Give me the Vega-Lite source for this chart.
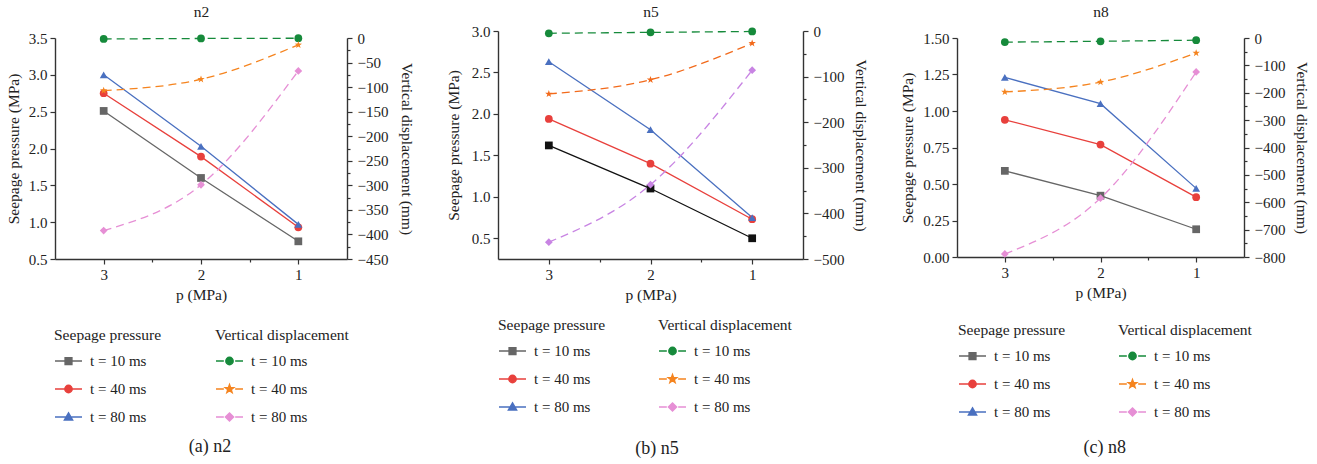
{
  "$schema": "https://vega.github.io/schema/vega-lite/v6.json",
  "padding": {"left": 6, "top": 4, "right": 0, "bottom": 0},
  "config": {
    "font": "Liberation Serif",
    "view": {"stroke": null},
    "title": {"font": "Liberation Serif", "fontSize": 15.5, "fontWeight": "normal", "color": "#222", "anchor": "middle"},
    "axis": {
      "labelFont": "Liberation Serif", "labelFontSize": 15, "labelColor": "#222",
      "titleFont": "Liberation Serif", "titleFontSize": 15.5, "titleFontWeight": "normal", "titleColor": "#222",
      "domainColor": "#333", "domainWidth": 1.4, "tickColor": "#333", "tickWidth": 1.2,
      "grid": false, "labelOverlap": false, "labelBound": false, "labelFlush": false
    },
    "legend": {
      "labelFont": "Liberation Serif", "labelFontSize": 15, "labelColor": "#222",
      "titleFont": "Liberation Serif", "titleFontSize": 15.5, "titleFontWeight": "normal", "titleColor": "#222",
      "titlePadding": 3, "rowPadding": 5, "symbolSize": 729, "labelOffset": 7, "padding": 0
    }
  },
  "data": {"values": [
    {"panel":"n2","kind":"seep","t":"t = 10 ms","p":3,"v":2.51},
    {"panel":"n2","kind":"seep","t":"t = 10 ms","p":2,"v":1.60},
    {"panel":"n2","kind":"seep","t":"t = 10 ms","p":1,"v":0.74},
    {"panel":"n2","kind":"seep","t":"t = 40 ms","p":3,"v":2.75},
    {"panel":"n2","kind":"seep","t":"t = 40 ms","p":2,"v":1.89},
    {"panel":"n2","kind":"seep","t":"t = 40 ms","p":1,"v":0.93},
    {"panel":"n2","kind":"seep","t":"t = 80 ms","p":3,"v":3.00},
    {"panel":"n2","kind":"seep","t":"t = 80 ms","p":2,"v":2.03},
    {"panel":"n2","kind":"seep","t":"t = 80 ms","p":1,"v":0.97},
    {"panel":"n2","kind":"disp","t":"t = 10 ms","p":3,"v":-2},
    {"panel":"n2","kind":"disp","t":"t = 10 ms","p":2,"v":-1},
    {"panel":"n2","kind":"disp","t":"t = 10 ms","p":1,"v":-0.5},
    {"panel":"n2","kind":"disp","t":"t = 40 ms","p":3,"v":-107},
    {"panel":"n2","kind":"disp","t":"t = 40 ms","p":2,"v":-84},
    {"panel":"n2","kind":"disp","t":"t = 40 ms","p":1,"v":-14},
    {"panel":"n2","kind":"disp","t":"t = 80 ms","p":3,"v":-392},
    {"panel":"n2","kind":"disp","t":"t = 80 ms","p":2,"v":-299},
    {"panel":"n2","kind":"disp","t":"t = 80 ms","p":1,"v":-67},
    {"panel":"n5","kind":"seep","t":"t = 10 ms","p":3,"v":1.62},
    {"panel":"n5","kind":"seep","t":"t = 10 ms","p":2,"v":1.10},
    {"panel":"n5","kind":"seep","t":"t = 10 ms","p":1,"v":0.50},
    {"panel":"n5","kind":"seep","t":"t = 40 ms","p":3,"v":1.94},
    {"panel":"n5","kind":"seep","t":"t = 40 ms","p":2,"v":1.40},
    {"panel":"n5","kind":"seep","t":"t = 40 ms","p":1,"v":0.73},
    {"panel":"n5","kind":"seep","t":"t = 80 ms","p":3,"v":2.63},
    {"panel":"n5","kind":"seep","t":"t = 80 ms","p":2,"v":1.81},
    {"panel":"n5","kind":"seep","t":"t = 80 ms","p":1,"v":0.75},
    {"panel":"n5","kind":"disp","t":"t = 10 ms","p":3,"v":-5},
    {"panel":"n5","kind":"disp","t":"t = 10 ms","p":2,"v":-3},
    {"panel":"n5","kind":"disp","t":"t = 10 ms","p":1,"v":-1},
    {"panel":"n5","kind":"disp","t":"t = 40 ms","p":3,"v":-138},
    {"panel":"n5","kind":"disp","t":"t = 40 ms","p":2,"v":-107},
    {"panel":"n5","kind":"disp","t":"t = 40 ms","p":1,"v":-27},
    {"panel":"n5","kind":"disp","t":"t = 80 ms","p":3,"v":-463},
    {"panel":"n5","kind":"disp","t":"t = 80 ms","p":2,"v":-337},
    {"panel":"n5","kind":"disp","t":"t = 80 ms","p":1,"v":-86},
    {"panel":"n8","kind":"seep","t":"t = 10 ms","p":3,"v":0.59},
    {"panel":"n8","kind":"seep","t":"t = 10 ms","p":2,"v":0.42},
    {"panel":"n8","kind":"seep","t":"t = 10 ms","p":1,"v":0.19},
    {"panel":"n8","kind":"seep","t":"t = 40 ms","p":3,"v":0.94},
    {"panel":"n8","kind":"seep","t":"t = 40 ms","p":2,"v":0.77},
    {"panel":"n8","kind":"seep","t":"t = 40 ms","p":1,"v":0.41},
    {"panel":"n8","kind":"seep","t":"t = 80 ms","p":3,"v":1.23},
    {"panel":"n8","kind":"seep","t":"t = 80 ms","p":2,"v":1.05},
    {"panel":"n8","kind":"seep","t":"t = 80 ms","p":1,"v":0.47},
    {"panel":"n8","kind":"disp","t":"t = 10 ms","p":3,"v":-15},
    {"panel":"n8","kind":"disp","t":"t = 10 ms","p":2,"v":-12},
    {"panel":"n8","kind":"disp","t":"t = 10 ms","p":1,"v":-8},
    {"panel":"n8","kind":"disp","t":"t = 40 ms","p":3,"v":-197},
    {"panel":"n8","kind":"disp","t":"t = 40 ms","p":2,"v":-161},
    {"panel":"n8","kind":"disp","t":"t = 40 ms","p":1,"v":-55},
    {"panel":"n8","kind":"disp","t":"t = 80 ms","p":3,"v":-789},
    {"panel":"n8","kind":"disp","t":"t = 80 ms","p":2,"v":-585},
    {"panel":"n8","kind":"disp","t":"t = 80 ms","p":1,"v":-124}
  ]},
  "spacing": 32,
  "hconcat": [
    {
      "title": {"text": "(a) n2", "orient": "bottom", "anchor": "middle", "fontSize": 18, "offset": 13},
      "vconcat": [{
        "width": 292, "height": 228,
        "layer": [
          {
            "transform": [{"filter": "datum.panel === 'n2' && datum.kind === 'seep'"}],
            "encoding": {
              "x": {"field": "p", "type": "quantitative", "scale": {"domain": [0.5, 3.5], "reverse": true, "nice": false, "zero": false},
                "axis": {"title": "p (MPa)", "values": [1, 1.5, 2, 2.5, 3], "format": ".0f", "labelExpr": "datum.value % 1 === 0 ? datum.label : ''", "tickSize": {"condition": {"test": "datum.value % 1 !== 0", "value": 3}, "value": 5}, "labelPadding": 3, "titlePadding": 5}},
              "y": {"field": "v", "type": "quantitative", "scale": {"domain": [0.5, 3.5], "range": [228, 7], "nice": false, "zero": false},
                "axis": {"title": "Seepage pressure (MPa)", "orient": "left", "values": [0.5, 1, 1.5, 2, 2.5, 3, 3.5], "format": ".1f", "tickSize": 5, "labelPadding": 3, "titlePadding": 7}},
              "color": {"field": "t", "type": "nominal", "scale": {"domain": ["t = 10 ms", "t = 40 ms", "t = 80 ms"], "range": ["#666666", "#e8403c", "#4a70c0"]}, "legend": null},
              "opacity": {"field": "t", "type": "ordinal", "scale": {"domain": ["t = 10 ms", "t = 40 ms", "t = 80 ms", "-"], "range": [1, 1]},
                "legend": {"title": "Seepage pressure", "values": ["t = 10 ms", "t = 40 ms", "t = 80 ms"], "orient": "none", "legendX": -1, "legendY": 297,
                  "encode": {"symbols": {"update": {
                    "shape": {"signal": "datum.value === 't = 10 ms' ? 'M-1,0H1M-0.25,-0.25H0.25V0.25H-0.25Z' : datum.value === 't = 40 ms' ? 'M-1,0H1M0.27,0A0.27,0.27,0,1,1,-0.27,0A0.27,0.27,0,1,1,0.27,0Z' : 'M-1,0H1M0,-0.3L0.3,0.22L-0.3,0.22Z'"},
                    "fill": {"signal": "datum.value === 't = 10 ms' ? '#666666' : datum.value === 't = 40 ms' ? '#e8403c' : '#4a70c0'"},
                    "stroke": {"signal": "datum.value === 't = 10 ms' ? '#666666' : datum.value === 't = 40 ms' ? '#e8403c' : '#4a70c0'"},
                    "strokeWidth": {"value": 1.5}, "fillOpacity": {"value": 1}}}}}}
            },
            "layer": [
              {"mark": {"type": "line", "strokeWidth": 1.3}},
              {"mark": {"type": "point", "filled": true, "size": 60},
               "encoding": {"shape": {"field": "t", "type": "nominal", "scale": {"domain": ["t = 10 ms", "t = 40 ms", "t = 80 ms"], "range": ["square", "circle", "triangle-up"]}, "legend": null}}}
            ]
          },
          {
            "transform": [{"filter": "datum.panel === 'n2' && datum.kind === 'disp'"}],
            "encoding": {
              "x": {"field": "p", "type": "quantitative",
                "axis": {"orient": "top", "title": "n2", "labels": false, "ticks": false, "domain": false, "titlePadding": 12}},
              "y": {"field": "v", "type": "quantitative", "scale": {"domain": [-450, 0], "range": [228, 7], "nice": false, "zero": false},
                "axis": {"title": "Vertical displacement (mm)", "orient": "right", "values": [-450,-425,-400,-375,-350,-325,-300,-275,-250,-225,-200,-175,-150,-125,-100,-75,-50,-25,0], "labelExpr": "datum.value % 50 === 0 ? datum.label : ''", "tickSize": {"condition": {"test": "datum.value % 50 !== 0", "value": 3}, "value": 5}, "labelPadding": 5, "titlePadding": 11}},
              "color": {"field": "t", "type": "nominal", "scale": {"domain": ["t = 10 ms", "t = 40 ms", "t = 80 ms"], "range": ["#168a3b", "#f5841f", "#e68fd5"]}, "legend": null},
              "opacity": {"field": "t", "type": "ordinal", "scale": {"domain": ["t = 10 ms", "t = 40 ms", "t = 80 ms", "-"], "range": [1, 1]},
                "legend": {"title": "Vertical displacement", "values": ["t = 10 ms", "t = 40 ms", "t = 80 ms"], "orient": "none", "legendX": 160, "legendY": 297,
                  "encode": {"symbols": {"update": {
                    "shape": {"signal": "datum.value === 't = 10 ms' ? 'M-1,0H-0.42M0.42,0H1M0.27,0A0.27,0.27,0,1,1,-0.27,0A0.27,0.27,0,1,1,0.27,0Z' : datum.value === 't = 40 ms' ? 'M-1,0H-0.42M0.42,0H1M0,-0.32L0.076,-0.105L0.304,-0.099L0.124,0.04L0.188,0.259L0,0.13L-0.188,0.259L-0.124,0.04L-0.304,-0.099L-0.076,-0.105Z' : 'M-1,0H-0.42M0.42,0H1M0,-0.3L0.3,0L0,0.3L-0.3,0Z'"},
                    "fill": {"signal": "datum.value === 't = 10 ms' ? '#168a3b' : datum.value === 't = 40 ms' ? '#f5841f' : '#e68fd5'"},
                    "stroke": {"signal": "datum.value === 't = 10 ms' ? '#168a3b' : datum.value === 't = 40 ms' ? '#f5841f' : '#e68fd5'"},
                    "strokeWidth": {"value": 1.5}, "fillOpacity": {"value": 1}}}}}}
            },
            "layer": [
              {"mark": {"type": "line", "strokeWidth": 1.3, "strokeDash": [8, 5], "interpolate": "monotone"}},
              {"mark": {"type": "point", "filled": true, "size": 60},
               "encoding": {"shape": {"field": "t", "type": "nominal", "scale": {"domain": ["t = 10 ms", "t = 40 ms", "t = 80 ms"], "range": ["circle", "M0,-1L0.235,-0.324L0.951,-0.309L0.38,0.124L0.588,0.809L0,0.4L-0.588,0.809L-0.38,0.124L-0.951,-0.309L-0.235,-0.324Z", "diamond"]}, "legend": null}}}
            ]
          }
        ],
        "resolve": {"scale": {"y": "independent", "color": "independent", "shape": "independent", "opacity": "independent"}, "axis": {"x": "independent"}}
      }]
    },
    {
      "title": {"text": "(b) n5", "orient": "bottom", "anchor": "middle", "fontSize": 18, "offset": 25},
      "vconcat": [{
        "width": 305, "height": 228,
        "layer": [
          {
            "transform": [{"filter": "datum.panel === 'n5' && datum.kind === 'seep'"}],
            "encoding": {
              "x": {"field": "p", "type": "quantitative", "scale": {"domain": [0.5, 3.5], "reverse": true, "nice": false, "zero": false},
                "axis": {"title": "p (MPa)", "values": [1, 1.5, 2, 2.5, 3], "format": ".0f", "labelExpr": "datum.value % 1 === 0 ? datum.label : ''", "tickSize": {"condition": {"test": "datum.value % 1 !== 0", "value": 3}, "value": 5}, "labelPadding": 3, "titlePadding": 5}},
              "y": {"field": "v", "type": "quantitative", "scale": {"domain": [0.25, 3.0], "nice": false, "zero": false},
                "axis": {"title": "Seepage pressure (MPa)", "orient": "left", "values": [0.5, 1, 1.5, 2, 2.5, 3], "format": ".1f", "tickSize": 5, "labelPadding": 3, "titlePadding": 10}},
              "color": {"field": "t", "type": "nominal", "scale": {"domain": ["t = 10 ms", "t = 40 ms", "t = 80 ms"], "range": ["#111111", "#e8403c", "#4a70c0"]}, "legend": null},
              "opacity": {"field": "t", "type": "ordinal", "scale": {"domain": ["t = 10 ms", "t = 40 ms", "t = 80 ms", "-"], "range": [1, 1]},
                "legend": {"title": "Seepage pressure", "values": ["t = 10 ms", "t = 40 ms", "t = 80 ms"], "orient": "none", "legendX": 0, "legendY": 287,
                  "encode": {"symbols": {"update": {
                    "shape": {"signal": "datum.value === 't = 10 ms' ? 'M-1,0H1M-0.25,-0.25H0.25V0.25H-0.25Z' : datum.value === 't = 40 ms' ? 'M-1,0H1M0.27,0A0.27,0.27,0,1,1,-0.27,0A0.27,0.27,0,1,1,0.27,0Z' : 'M-1,0H1M0,-0.3L0.3,0.22L-0.3,0.22Z'"},
                    "fill": {"signal": "datum.value === 't = 10 ms' ? '#666666' : datum.value === 't = 40 ms' ? '#e8403c' : '#4a70c0'"},
                    "stroke": {"signal": "datum.value === 't = 10 ms' ? '#666666' : datum.value === 't = 40 ms' ? '#e8403c' : '#4a70c0'"},
                    "strokeWidth": {"value": 1.5}, "fillOpacity": {"value": 1}}}}}}
            },
            "layer": [
              {"mark": {"type": "line", "strokeWidth": 1.3}},
              {"mark": {"type": "point", "filled": true, "size": 60},
               "encoding": {"shape": {"field": "t", "type": "nominal", "scale": {"domain": ["t = 10 ms", "t = 40 ms", "t = 80 ms"], "range": ["square", "circle", "triangle-up"]}, "legend": null}}}
            ]
          },
          {
            "transform": [{"filter": "datum.panel === 'n5' && datum.kind === 'disp'"}],
            "encoding": {
              "x": {"field": "p", "type": "quantitative",
                "axis": {"orient": "top", "title": "n5", "labels": false, "ticks": false, "domain": false, "titlePadding": 12}},
              "y": {"field": "v", "type": "quantitative", "scale": {"domain": [-500, 0], "nice": false, "zero": false},
                "axis": {"title": "Vertical displacement (mm)", "orient": "right", "values": [-500,-450,-400,-350,-300,-250,-200,-150,-100,-50,0], "labelExpr": "datum.value % 100 === 0 ? datum.label : ''", "tickSize": {"condition": {"test": "datum.value % 100 !== 0", "value": 3}, "value": 5}, "labelPadding": 5, "titlePadding": 9}},
              "color": {"field": "t", "type": "nominal", "scale": {"domain": ["t = 10 ms", "t = 40 ms", "t = 80 ms"], "range": ["#168a3b", "#f26a1b", "#c884e3"]}, "legend": null},
              "opacity": {"field": "t", "type": "ordinal", "scale": {"domain": ["t = 10 ms", "t = 40 ms", "t = 80 ms", "-"], "range": [1, 1]},
                "legend": {"title": "Vertical displacement", "values": ["t = 10 ms", "t = 40 ms", "t = 80 ms"], "orient": "none", "legendX": 160, "legendY": 287,
                  "encode": {"symbols": {"update": {
                    "shape": {"signal": "datum.value === 't = 10 ms' ? 'M-1,0H-0.42M0.42,0H1M0.27,0A0.27,0.27,0,1,1,-0.27,0A0.27,0.27,0,1,1,0.27,0Z' : datum.value === 't = 40 ms' ? 'M-1,0H-0.42M0.42,0H1M0,-0.32L0.076,-0.105L0.304,-0.099L0.124,0.04L0.188,0.259L0,0.13L-0.188,0.259L-0.124,0.04L-0.304,-0.099L-0.076,-0.105Z' : 'M-1,0H-0.42M0.42,0H1M0,-0.3L0.3,0L0,0.3L-0.3,0Z'"},
                    "fill": {"signal": "datum.value === 't = 10 ms' ? '#168a3b' : datum.value === 't = 40 ms' ? '#f5841f' : '#e68fd5'"},
                    "stroke": {"signal": "datum.value === 't = 10 ms' ? '#168a3b' : datum.value === 't = 40 ms' ? '#f5841f' : '#e68fd5'"},
                    "strokeWidth": {"value": 1.5}, "fillOpacity": {"value": 1}}}}}}
            },
            "layer": [
              {"mark": {"type": "line", "strokeWidth": 1.3, "strokeDash": [8, 5], "interpolate": "monotone"}},
              {"mark": {"type": "point", "filled": true, "size": 60},
               "encoding": {"shape": {"field": "t", "type": "nominal", "scale": {"domain": ["t = 10 ms", "t = 40 ms", "t = 80 ms"], "range": ["circle", "M0,-1L0.235,-0.324L0.951,-0.309L0.38,0.124L0.588,0.809L0,0.4L-0.588,0.809L-0.38,0.124L-0.951,-0.309L-0.235,-0.324Z", "diamond"]}, "legend": null}}}
            ]
          }
        ],
        "resolve": {"scale": {"y": "independent", "color": "independent", "shape": "independent", "opacity": "independent"}, "axis": {"x": "independent"}}
      }]
    },
    {
      "title": {"text": "(c) n8", "orient": "bottom", "anchor": "middle", "fontSize": 18, "offset": 19},
      "vconcat": [{
        "width": 287, "height": 226,
        "layer": [
          {
            "transform": [{"filter": "datum.panel === 'n8' && datum.kind === 'seep'"}],
            "encoding": {
              "x": {"field": "p", "type": "quantitative", "scale": {"domain": [0.5, 3.5], "reverse": true, "nice": false, "zero": false},
                "axis": {"title": "p (MPa)", "values": [1, 1.5, 2, 2.5, 3], "format": ".0f", "labelExpr": "datum.value % 1 === 0 ? datum.label : ''", "tickSize": {"condition": {"test": "datum.value % 1 !== 0", "value": 3}, "value": 5}, "labelPadding": 3, "titlePadding": 5}},
              "y": {"field": "v", "type": "quantitative", "scale": {"domain": [0, 1.5], "range": [226, 7], "nice": false, "zero": false},
                "axis": {"title": "Seepage pressure (MPa)", "orient": "left", "values": [0, 0.25, 0.5, 0.75, 1, 1.25, 1.5], "format": ".2f", "tickSize": 5, "labelPadding": 3, "titlePadding": 7}},
              "color": {"field": "t", "type": "nominal", "scale": {"domain": ["t = 10 ms", "t = 40 ms", "t = 80 ms"], "range": ["#666666", "#e8403c", "#4a70c0"]}, "legend": null},
              "opacity": {"field": "t", "type": "ordinal", "scale": {"domain": ["t = 10 ms", "t = 40 ms", "t = 80 ms", "-"], "range": [1, 1]},
                "legend": {"title": "Seepage pressure", "values": ["t = 10 ms", "t = 40 ms", "t = 80 ms"], "orient": "none", "legendX": 1, "legendY": 292,
                  "encode": {"symbols": {"update": {
                    "shape": {"signal": "datum.value === 't = 10 ms' ? 'M-1,0H1M-0.25,-0.25H0.25V0.25H-0.25Z' : datum.value === 't = 40 ms' ? 'M-1,0H1M0.27,0A0.27,0.27,0,1,1,-0.27,0A0.27,0.27,0,1,1,0.27,0Z' : 'M-1,0H1M0,-0.3L0.3,0.22L-0.3,0.22Z'"},
                    "fill": {"signal": "datum.value === 't = 10 ms' ? '#666666' : datum.value === 't = 40 ms' ? '#e8403c' : '#4a70c0'"},
                    "stroke": {"signal": "datum.value === 't = 10 ms' ? '#666666' : datum.value === 't = 40 ms' ? '#e8403c' : '#4a70c0'"},
                    "strokeWidth": {"value": 1.5}, "fillOpacity": {"value": 1}}}}}}
            },
            "layer": [
              {"mark": {"type": "line", "strokeWidth": 1.3}},
              {"mark": {"type": "point", "filled": true, "size": 60},
               "encoding": {"shape": {"field": "t", "type": "nominal", "scale": {"domain": ["t = 10 ms", "t = 40 ms", "t = 80 ms"], "range": ["square", "circle", "triangle-up"]}, "legend": null}}}
            ]
          },
          {
            "transform": [{"filter": "datum.panel === 'n8' && datum.kind === 'disp'"}],
            "encoding": {
              "x": {"field": "p", "type": "quantitative",
                "axis": {"orient": "top", "title": "n8", "labels": false, "ticks": false, "domain": false, "titlePadding": 12}},
              "y": {"field": "v", "type": "quantitative", "scale": {"domain": [-800, 0], "range": [226, 7], "nice": false, "zero": false},
                "axis": {"title": "Vertical displacement (mm)", "orient": "right", "values": [-800,-750,-700,-650,-600,-550,-500,-450,-400,-350,-300,-250,-200,-150,-100,-50,0], "labelExpr": "datum.value % 100 === 0 ? datum.label : ''", "tickSize": {"condition": {"test": "datum.value % 100 !== 0", "value": 3}, "value": 5}, "labelPadding": 5, "titlePadding": 9}},
              "color": {"field": "t", "type": "nominal", "scale": {"domain": ["t = 10 ms", "t = 40 ms", "t = 80 ms"], "range": ["#168a3b", "#f5841f", "#e68fd5"]}, "legend": null},
              "opacity": {"field": "t", "type": "ordinal", "scale": {"domain": ["t = 10 ms", "t = 40 ms", "t = 80 ms", "-"], "range": [1, 1]},
                "legend": {"title": "Vertical displacement", "values": ["t = 10 ms", "t = 40 ms", "t = 80 ms"], "orient": "none", "legendX": 161, "legendY": 292,
                  "encode": {"symbols": {"update": {
                    "shape": {"signal": "datum.value === 't = 10 ms' ? 'M-1,0H-0.42M0.42,0H1M0.27,0A0.27,0.27,0,1,1,-0.27,0A0.27,0.27,0,1,1,0.27,0Z' : datum.value === 't = 40 ms' ? 'M-1,0H-0.42M0.42,0H1M0,-0.32L0.076,-0.105L0.304,-0.099L0.124,0.04L0.188,0.259L0,0.13L-0.188,0.259L-0.124,0.04L-0.304,-0.099L-0.076,-0.105Z' : 'M-1,0H-0.42M0.42,0H1M0,-0.3L0.3,0L0,0.3L-0.3,0Z'"},
                    "fill": {"signal": "datum.value === 't = 10 ms' ? '#168a3b' : datum.value === 't = 40 ms' ? '#f5841f' : '#e68fd5'"},
                    "stroke": {"signal": "datum.value === 't = 10 ms' ? '#168a3b' : datum.value === 't = 40 ms' ? '#f5841f' : '#e68fd5'"},
                    "strokeWidth": {"value": 1.5}, "fillOpacity": {"value": 1}}}}}}
            },
            "layer": [
              {"mark": {"type": "line", "strokeWidth": 1.3, "strokeDash": [8, 5], "interpolate": "monotone"}},
              {"mark": {"type": "point", "filled": true, "size": 60},
               "encoding": {"shape": {"field": "t", "type": "nominal", "scale": {"domain": ["t = 10 ms", "t = 40 ms", "t = 80 ms"], "range": ["circle", "M0,-1L0.235,-0.324L0.951,-0.309L0.38,0.124L0.588,0.809L0,0.4L-0.588,0.809L-0.38,0.124L-0.951,-0.309L-0.235,-0.324Z", "diamond"]}, "legend": null}}}
            ]
          }
        ],
        "resolve": {"scale": {"y": "independent", "color": "independent", "shape": "independent", "opacity": "independent"}, "axis": {"x": "independent"}}
      }]
    }
  ]
}
